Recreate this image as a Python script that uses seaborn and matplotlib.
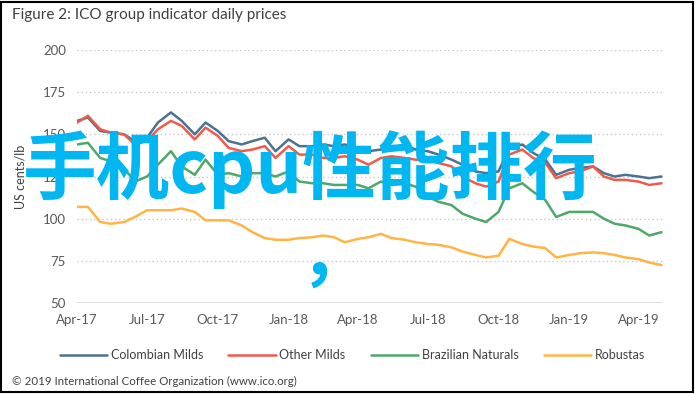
import pandas as pd
import matplotlib.pyplot as plt
import matplotlib.dates as mdates
from matplotlib.patches import Rectangle
import seaborn as sns

# semi-monthly readings, Apr 2017 - May 2019
dates = pd.to_datetime([
    "2017-04-01", "2017-04-15", "2017-05-01", "2017-05-15", "2017-06-01", "2017-06-15",
    "2017-07-01", "2017-07-15", "2017-08-01", "2017-08-15", "2017-09-01", "2017-09-15",
    "2017-10-01", "2017-10-15", "2017-11-01", "2017-11-15", "2017-12-01", "2017-12-15",
    "2018-01-01", "2018-01-15", "2018-02-01", "2018-02-15", "2018-03-01", "2018-03-15",
    "2018-04-01", "2018-04-15", "2018-05-01", "2018-05-15", "2018-06-01", "2018-06-15",
    "2018-07-01", "2018-07-15", "2018-08-01", "2018-08-15", "2018-09-01", "2018-09-15",
    "2018-10-01", "2018-10-15", "2018-11-01", "2018-11-15", "2018-12-01", "2018-12-15",
    "2019-01-01", "2019-01-15", "2019-02-01", "2019-02-15", "2019-03-01", "2019-03-15",
    "2019-04-01", "2019-04-15", "2019-05-01",
])

colombian = [158, 160, 152, 151, 150, 146, 148, 157, 163, 158, 150, 157,
             152, 146, 144, 146, 148, 140, 147, 143, 143, 144, 143, 144,
             142, 140, 141, 142, 144, 141, 140, 138, 135, 132, 128, 127,
             128, 142, 144, 139, 135, 126, 129, 130, 131, 127, 125, 126,
             125, 124, 125]
other = [157, 161, 153, 151, 150, 144, 146, 153, 158, 155, 147, 154,
         149, 142, 140, 141, 143, 136, 143, 138, 138, 136, 136, 137,
         135, 132, 136, 137, 136, 135, 135, 133, 131, 125, 121, 119,
         122, 138, 141, 136, 133, 124, 127, 128, 131, 125, 123, 123,
         122, 120, 121]
brazilian = [144, 145, 136, 134, 130, 122, 125, 132, 140, 131, 126, 135,
             126, 127, 125, 127, 127, 125, 128, 122, 121, 121, 120, 120,
             120, 118, 122, 120, 121, 119, 113, 110, 108, 103, 100, 98,
             104, 118, 121, 116, 111, 101, 104, 104, 104, 100, 97, 96,
             94, 90, 92]
robustas = [107, 107, 98, 97, 98, 101, 105, 105, 105, 106, 104, 99,
            99, 99, 96, 92, 88.5, 87.5, 87.5, 88.5, 89, 90, 89, 86,
            88, 89, 91, 88.5, 87.5, 86, 85, 84.5, 83, 80.5, 78.5, 77,
            78, 88, 85, 83.5, 82.5, 77, 78.5, 79.5, 80, 79.5, 78.5, 77,
            76, 74, 72.5]

series = ["Colombian Milds", "Other Milds", "Brazilian Naturals", "Robustas"]
colors = ["#4A7391", "#F15A4A", "#4EA86A", "#FFB545"]
tick_dates = pd.date_range("2017-04-01", "2019-04-01", freq="3MS")

df = pd.DataFrame({"date": dates, "Colombian Milds": colombian, "Other Milds": other,
                   "Brazilian Naturals": brazilian, "Robustas": robustas})
long = df.melt(id_vars="date", var_name="group", value_name="price")

sns.set_style("white")
plt.rcParams["font.family"] = ["Lato", "DejaVu Sans"]

fig = plt.figure(figsize=(6.95, 3.94), dpi=100)
ax = fig.add_axes([0.111, 0.231, 0.843, 0.642])

sns.lineplot(data=long, x="date", y="price", hue="group", hue_order=series,
             palette=dict(zip(series, colors)), linewidth=1.8, ax=ax, legend=False)

ax.set_ylim(50, 200)
ax.set_yticks([50, 75, 100, 125, 150, 175, 200])
ax.set_xlim(pd.Timestamp("2017-04-01"), pd.Timestamp("2019-05-03"))
ax.set_xticks(tick_dates)
ax.xaxis.set_major_formatter(mdates.DateFormatter("%b-%y"))
ax.tick_params(axis="both", length=0, labelsize=9.5, labelcolor="#595959", pad=8)
for y in [75, 100, 125, 150, 175, 200]:
    ax.axhline(y, color="#C8C8C8", linestyle=(0, (1, 2)), linewidth=1.0, zorder=0)
ax.axhline(50, color="#D9D9D9", linewidth=1.2, zorder=0)
for s in ax.spines.values():
    s.set_visible(False)
ax.set_xlabel("")
ax.set_ylabel("US cents/lb", fontsize=9, color="#404040", labelpad=12)

handles = [plt.Line2D([], [], color=c, linewidth=1.8) for c in colors]
fig.legend(handles, series, loc="center", bbox_to_anchor=(0.507, 0.098), ncol=4,
           frameon=False, fontsize=9, handlelength=3.8, handletextpad=0.3,
           columnspacing=2.0, labelcolor="#404040")

fig.text(0.017, 0.962, "Figure 2: ICO group indicator daily prices", fontsize=11,
         color="#404040", va="center", ha="left")
fig.text(0.017, 0.033, "\u00a9 2019 International Coffee Organization (www.ico.org)",
         fontsize=8.3, color="#404040", va="center", ha="left")

# overlay watermark
fig.text(0.033, 0.57, "手机cpu性能排行", fontsize=53, color="#00B7F1", weight="bold",
         family=["Noto Sans CJK SC", "DejaVu Sans"], va="center", ha="left")
fig.text(0.432, 0.345, "，", fontsize=50, color="#00B7F1", weight="bold",
         family=["Noto Sans CJK SC", "DejaVu Sans"], va="center", ha="left")

fig.patches.append(Rectangle((0.0015, 0.006), 0.995, 0.99, transform=fig.transFigure,
                             fill=False, edgecolor="black", linewidth=1.5))

fig.savefig("out.png", dpi=100)
